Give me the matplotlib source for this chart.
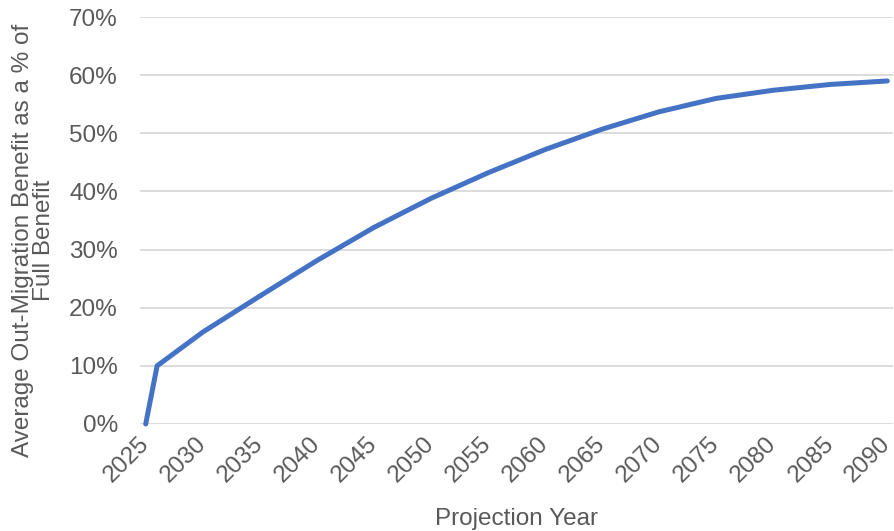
import matplotlib
matplotlib.use('Agg')
import matplotlib.pyplot as plt
from matplotlib.ticker import PercentFormatter

# values
years = [2025, 2026, 2030, 2035, 2040, 2045, 2050, 2055, 2060, 2065,
         2070, 2075, 2080, 2085, 2090]
benefit_pct = [0.0, 10.0, 15.8, 22.0, 28.1, 33.8, 38.8, 43.2, 47.2, 50.7,
               53.7, 56.0, 57.4, 58.4, 59.0]
tick_years = list(range(2025, 2091, 5))

plt.rcParams['font.family'] = ['Liberation Sans', 'DejaVu Sans']
text_color = '#595959'

fig = plt.figure(figsize=(8.94, 5.31), dpi=100)
ax = fig.add_axes([140 / 894, 1 - 424 / 531, (893 - 140) / 894, (424 - 17) / 531])

ax.plot(years, benefit_pct, color='#4472C4', linewidth=3.6, clip_on=False,
        solid_capstyle='round', solid_joinstyle='round', zorder=3)

ax.set_xlim(2024.5, 2090.5)
ax.set_ylim(0, 70)
ax.set_yticks(range(0, 71, 10))
ax.yaxis.set_major_formatter(PercentFormatter(decimals=0))
ax.set_xticks(tick_years)
ax.set_xticklabels([str(y) for y in tick_years], rotation=45, ha='right',
                   va='center', rotation_mode='anchor')

ax.grid(axis='y', color='#d9d9d9', linewidth=1.3)
ax.set_axisbelow(True)
for s in ax.spines.values():
    s.set_visible(False)
ax.tick_params(axis='both', length=0, labelsize=17.5, colors=text_color)
ax.tick_params(axis='y', pad=16)
ax.tick_params(axis='x', pad=12)

ax.set_xlabel('Projection Year', fontsize=17.5, color=text_color, labelpad=15)
# y title placed by hand, like the Excel one
fig.text(33.5 / 894, 1 - 240 / 531,
         'Average Out-Migration Benefit as a % of\nFull Benefit',
         rotation=90, ha='center', va='center', multialignment='center',
         fontsize=17.5, color=text_color, linespacing=0.9)

fig.savefig('out.png', dpi=100)
